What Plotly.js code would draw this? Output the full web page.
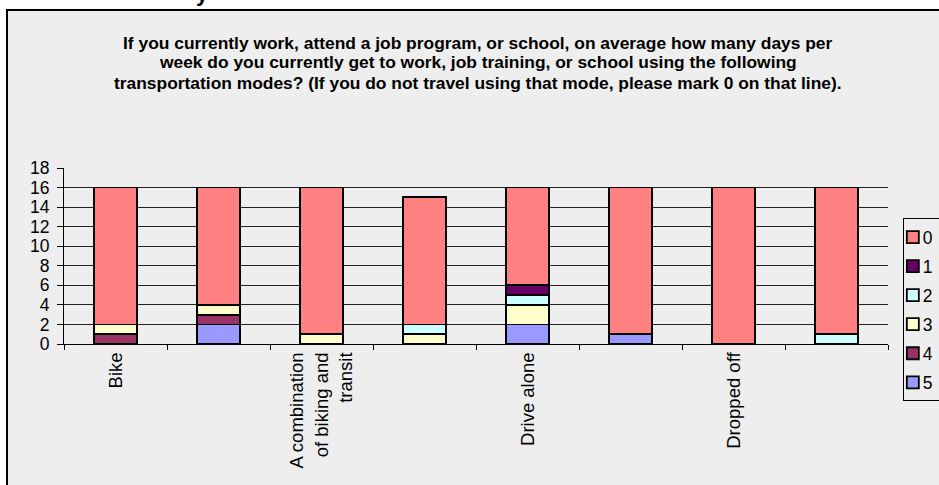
<!DOCTYPE html>
<html>
<head>
<meta charset="utf-8">
<script src="https://cdn.plot.ly/plotly-3.0.1.min.js"></script>
<style>
  html, body { margin: 0; padding: 0; background: #ffffff; width: 939px; height: 485px; overflow: hidden; }
  #frame { position: absolute; left: 6px; top: 9px; width: 980px; height: 480px;
           border-left: 2px solid #000; border-top: 2px solid #000; background: #eeeeee; }
  #chart { position: absolute; left: 0; top: 0; width: 970px; height: 476px; }
  #cut { position: absolute; left: 196px; top: -19px; font: bold 22px "Liberation Sans", Arial, sans-serif; color: #000; }
</style>
</head>
<body>
<div id="cut">y</div>
<div id="frame"><div id="chart"></div></div>
<script>
// Categories (only every other label is printed in the reference)
const categories = ["Bike", "Mode 2", "A combination of biking and transit", "Mode 4",
                    "Drive alone", "Mode 6", "Dropped off", "Mode 8"];
const tickLabels = ["Bike", "", "A combination<br>of biking and<br>transit", "",
                    "Drive alone", "", "Dropped off", ""];

// Number of respondents answering each number of days
const days5 = [0, 2, 0, 0, 2, 1, 0, 0];
const days4 = [1, 1, 0, 0, 0, 0, 0, 0];
const days3 = [1, 1, 1, 1, 2, 0, 0, 0];
const days2 = [0, 0, 0, 1, 1, 0, 0, 1];
const days1 = [0, 0, 0, 0, 1, 0, 0, 0];
const days0 = [14, 12, 15, 13, 10, 15, 16, 15];

const seriesNames = ["5", "4", "3", "2", "1", "0"];
const seriesValues = [days5, days4, days3, days2, days1, days0];
const seriesColors = ["#9999FF", "#993366", "#FFFFCC", "#CCFFFF", "#660066", "#FF8080"];

const titleLines = [
  "If you currently work, attend a job program, or school, on average how many days per",
  "week do you currently get to work, job training, or school using the following",
  "transportation modes? (If you do not travel using that mode, please mark 0 on that line)."
];
const titleLineY = [1.71, 1.60, 1.485];

const traces = seriesNames.map((name, i) => ({
  type: "bar",
  name: name,
  x: categories,
  y: seriesValues[i],
  legendgroup: "g" + name,
  legendrank: 1000 - i,
  marker: { color: seriesColors[i], line: { color: "#000000", width: 1.8 } },
  hoverinfo: "x+y+name"
}));

const layout = {
  width: 970, height: 476,
  paper_bgcolor: "rgba(0,0,0,0)",
  plot_bgcolor: "rgba(0,0,0,0)",
  barmode: "stack",
  bargap: 0.59,
  font: { family: "Liberation Sans, Arial, sans-serif", color: "#000", size: 15 },
  margin: { l: 56, r: 90, t: 157, b: 143 },
  annotations: titleLines.map((t, i) => ({
    text: t, showarrow: false,
    xref: "paper", x: 0.502, xanchor: "center",
    yref: "paper", y: titleLineY[i], yanchor: "middle",
    font: { family: "Liberation Sans, Arial, sans-serif", size: 17.4, color: "#000", weight: "bold" }
  })),
  xaxis: {
    type: "category",
    categoryorder: "array",
    categoryarray: categories,
    tickmode: "array",
    tickvals: categories,
    ticktext: tickLabels,
    tickson: "boundaries",
    ticks: "outside", ticklen: 5, tickcolor: "#000", tickwidth: 1,
    tickangle: -90,
    tickfont: { size: 18.5 },
    showline: true, linecolor: "#000", linewidth: 1,
    showgrid: false,
    fixedrange: true
  },
  yaxis: {
    range: [0, 18],
    dtick: 2,
    ticks: "outside", ticklen: 6, tickcolor: "#000", tickwidth: 1,
    ticklabelstandoff: 4,
    tickfont: { size: 17.5 },
    showline: true, linecolor: "#000", linewidth: 1,
    showgrid: true, gridcolor: "#222222", gridwidth: 1,
    zeroline: false,
    fixedrange: true
  },
  legend: {
    x: 1.018, xanchor: "left",
    y: 0.715, yanchor: "top",
    traceorder: "grouped",
    tracegroupgap: 3.3,
    maxheight: 400,
    bgcolor: "rgba(0,0,0,0)",
    bordercolor: "#000", borderwidth: 1,
    font: { size: 17.5 },
    itemwidth: 30
  },
  showlegend: true
};

Plotly.newPlot("chart", traces, layout, { displayModeBar: false, staticPlot: true }).then(gd => {
  // Excel-style compact legend entries: symbol and label close to the legend's left edge
  gd.querySelectorAll(".legend .traces").forEach(item => {
    const pts = item.querySelector(".legendpoints");
    if (pts) {
      const t = pts.getAttribute("transform") || "";
      pts.setAttribute("transform", "translate(-11,0) " + t);
    }
    const txt = item.querySelector(".legendtext");
    if (txt) {
      const x = parseFloat(txt.getAttribute("x") || "0");
      txt.setAttribute("x", x - 21);
      txt.querySelectorAll("tspan[x]").forEach(s => s.setAttribute("x", parseFloat(s.getAttribute("x")) - 21));
    }
  });
});
</script>
</body>
</html>
